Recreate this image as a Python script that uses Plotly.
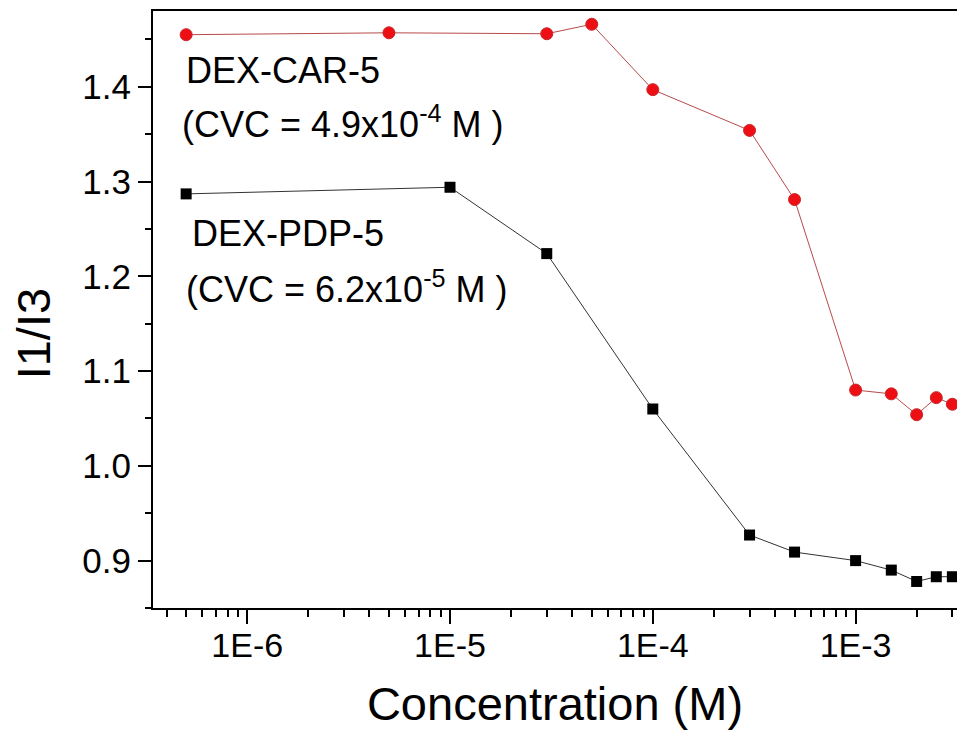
import plotly.graph_objects as go

# Data
conc_car = [5e-7, 5e-6, 3e-5, 5e-5, 1e-4, 3e-4, 5e-4, 1e-3, 1.5e-3, 2e-3, 2.5e-3, 3e-3]
i1i3_car = [1.455, 1.457, 1.456, 1.466, 1.397, 1.354, 1.281, 1.080, 1.076, 1.054, 1.072, 1.065]

conc_pdp = [5e-7, 1e-5, 3e-5, 1e-4, 3e-4, 5e-4, 1e-3, 1.5e-3, 2e-3, 2.5e-3, 3e-3]
i1i3_pdp = [1.287, 1.294, 1.224, 1.060, 0.927, 0.909, 0.900, 0.890, 0.878, 0.883, 0.883]

x_tickvals = [1e-6, 1e-5, 1e-4, 1e-3]
x_ticktext = ["1E-6", "1E-5", "1E-4", "1E-3"]
y_tickvals = [0.9, 1.0, 1.1, 1.2, 1.3, 1.4]
y_ticktext = ["0.9", "1.0", "1.1", "1.2", "1.3", "1.4"]

FONT = "Liberation Sans, Arial, sans-serif"

fig = go.Figure()
fig.add_trace(go.Scatter(
    x=conc_pdp, y=i1i3_pdp, mode="lines+markers", name="DEX-PDP-5",
    line=dict(color="#333333", width=1),
    marker=dict(symbol="square", size=11, color="#000000", line=dict(width=0)),
    cliponaxis=False,
))
fig.add_trace(go.Scatter(
    x=conc_car, y=i1i3_car, mode="lines+markers", name="DEX-CAR-5",
    line=dict(color="#b84a4a", width=1),
    marker=dict(symbol="circle", size=12, color="#ee0f14", line=dict(width=1, color="#c8262b")),
    cliponaxis=False,
))

minor_x = [m * 10.0 ** e for e in range(-7, -2) for m in range(2, 10)]
minor_y = [0.85, 0.95, 1.05, 1.15, 1.25, 1.35, 1.45]

fig.update_xaxes(
    type="log", range=[-6.4645, -2.5],
    tickmode="array", tickvals=x_tickvals, ticktext=x_ticktext,
    ticks="outside", ticklen=14, tickwidth=2, tickcolor="#000",
    ticklabelstandoff=-8,
    minor=dict(tickmode="array", tickvals=minor_x, ticks="outside", ticklen=7,
               tickwidth=2, tickcolor="#000", showgrid=False),
    showline=True, linewidth=2, linecolor="#000", mirror=True,
    showgrid=False, zeroline=False,
    tickfont=dict(family=FONT, size=34, color="#000"),
    title=dict(text="Concentration (M)", font=dict(family=FONT, size=47, color="#000"), standoff=24),
    automargin=False,
)
fig.update_yaxes(
    range=[0.85, 1.48],
    tickmode="array", tickvals=y_tickvals, ticktext=y_ticktext,
    ticks="outside", ticklen=13, tickwidth=2, tickcolor="#000",
    minor=dict(tickmode="array", tickvals=minor_y, ticks="outside", ticklen=6,
               tickwidth=2, tickcolor="#000", showgrid=False),
    showline=True, linewidth=2, linecolor="#000", mirror=False,
    showgrid=False, zeroline=False,
    tickfont=dict(family=FONT, size=35, color="#000"),
    automargin=False,
)

# y-axis title placed as rotated text, slightly below the plot centre as in the reference
fig.add_annotation(xref="paper", yref="paper", x=-0.153, y=0.46, xshift=3,
                   text="I1/I3", textangle=-90, showarrow=False,
                   xanchor="center", yanchor="middle", borderpad=0,
                   font=dict(family=FONT, size=47, color="#000"))

ann_font = dict(family=FONT, size=36, color="#000")
fig.add_annotation(xref="x", yref="y", x=-6.31, y=1.393, text="DEX-CAR-5",
                   xanchor="left", yanchor="bottom", showarrow=False, font=ann_font)
fig.add_annotation(xref="x", yref="y", x=-6.33, y=1.337,
                   text="(CVC = 4.9x10<sup>-4</sup> M )",
                   xanchor="left", yanchor="bottom", showarrow=False, font=ann_font)
fig.add_annotation(xref="x", yref="y", x=-6.28, y=1.221, text="DEX-PDP-5",
                   xanchor="left", yanchor="bottom", showarrow=False, font=ann_font)
fig.add_annotation(xref="x", yref="y", x=-6.31, y=1.162,
                   text="(CVC = 6.2x10<sup>-5</sup> M )",
                   xanchor="left", yanchor="bottom", showarrow=False, font=ann_font)

fig.update_layout(
    width=957, height=734,
    margin=dict(l=153, r=0, t=11, b=126),
    paper_bgcolor="#ffffff", plot_bgcolor="#ffffff",
    showlegend=False,
)

fig.write_html("out.html")
